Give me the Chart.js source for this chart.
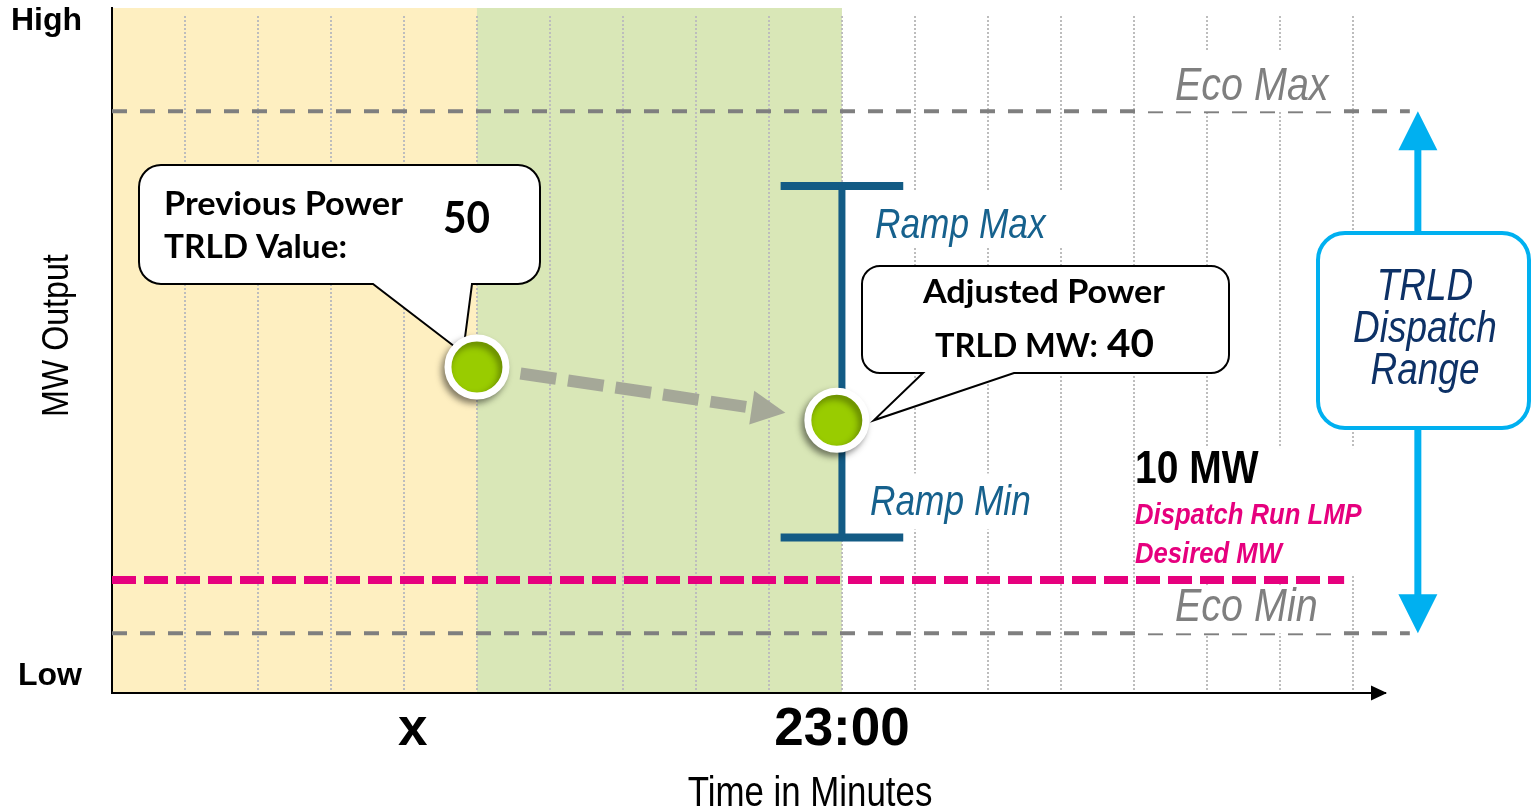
<!DOCTYPE html>
<html>
<head>
<meta charset="utf-8">
<title>TRLD Dispatch Range</title>
<script src="https://cdn.jsdelivr.net/npm/chart.js@4.4.1/dist/chart.umd.min.js"></script>
<style>
  html, body { margin: 0; padding: 0; background: #ffffff; }
  canvas { display: block; }
</style>
</head>
<body>
<canvas id="c" width="1532" height="810"></canvas>
<script>
// ---------------- data ----------------
// time axis (one unit = one minute slot)
const minuteMarks   = [1, 2, 3, 4, 5, 6, 7, 8, 9, 10, 11, 12, 13, 14, 15, 16, 17];
const xTickValues   = [4.12, 10];
const xTickLabels   = ['x', '23:00'];
// output axis (MW)
const yTickValues   = [-8, 115];
const yTickLabels   = ['Low', 'High'];
// shaded intervals
const bandStart     = [0, 5];
const bandEnd       = [5, 10];
// unit limits
const ecoMax        = 98;
const ecoMin        = 0;
const rampMax       = 84;
const rampMin       = 18;
const rampTime      = 10;
const desiredMW     = 10;
// previous and adjusted TRLD points
const pointTimes    = [5, 9.93];
const pointValues   = [50, 40];
// horizontal extents of the level lines
const levelLineEnd  = 17.78;
const desiredEnd    = 16.88;
const rangeArrowAt  = 17.89;

// ---------------- styles ----------------
const SANS  = '"Liberation Sans", Arial, sans-serif';
const CALLOUT_FONT = 'Lato, "Open Sans", sans-serif';
const C = {
  yellow: '#FEEFC1', green: '#D9E7B7', grid: '#BDBDBD',
  eco: '#7F7F7F', pink: '#E6007E', ramp: '#135B85', rampText: '#16618D',
  dot: '#99CC00', arrow: '#A5A898', cyan: '#00B0F0', navy: '#0D3166'
};
const CAP_HALF = 0.84;

Chart.defaults.font.family = SANS;

// draw text with optional horizontal squeeze / fitted width
function drawText(ctx, s, x, y, font, color, o = {}) {
  ctx.save();
  ctx.font = font;
  ctx.fillStyle = color;
  ctx.textBaseline = 'alphabetic';
  ctx.textAlign = 'left';
  const w = ctx.measureText(s).width;
  let sx = o.sx || 1;
  if (o.width) sx = o.width / w;
  const ww = w * sx;
  let x0 = x;
  if (o.align === 'center') x0 = x - ww / 2;
  else if (o.align === 'right') x0 = x - ww;
  ctx.translate(x0, y);
  ctx.scale(sx, 1);
  ctx.fillText(s, 0, 0);
  ctx.restore();
}

function whiteRect(ctx, l, t, r, b) {
  ctx.save();
  ctx.fillStyle = '#ffffff';
  ctx.fillRect(l, t, r - l, b - t);
  ctx.restore();
}

function roundRectPath(ctx, l, t, r, b, rad) {
  ctx.beginPath();
  ctx.moveTo(l + rad, t);
  ctx.lineTo(r - rad, t);
  ctx.arcTo(r, t, r, t + rad, rad);
  ctx.lineTo(r, b - rad);
  ctx.arcTo(r, b, r - rad, b, rad);
  ctx.lineTo(l + rad, b);
  ctx.arcTo(l, b, l, b - rad, rad);
  ctx.lineTo(l, t + rad);
  ctx.arcTo(l, t, l + rad, t, rad);
  ctx.closePath();
}

// speech bubble with a tail leaving the bottom edge
function bubble(ctx, l, t, r, b, rad, tailA, tailB, tip) {
  ctx.save();
  ctx.beginPath();
  ctx.moveTo(l + rad, t);
  ctx.lineTo(r - rad, t);
  ctx.arcTo(r, t, r, t + rad, rad);
  ctx.lineTo(r, b - rad);
  ctx.arcTo(r, b, r - rad, b, rad);
  ctx.lineTo(tailB, b);
  ctx.lineTo(tip.x, tip.y);
  ctx.lineTo(tailA, b);
  ctx.lineTo(l + rad, b);
  ctx.arcTo(l, b, l, b - rad, rad);
  ctx.lineTo(l, t + rad);
  ctx.arcTo(l, t, l + rad, t, rad);
  ctx.closePath();
  ctx.fillStyle = '#ffffff';
  ctx.fill();
  ctx.lineWidth = 2;
  ctx.lineJoin = 'miter';
  ctx.strokeStyle = '#000000';
  ctx.stroke();
  ctx.restore();
}

const PTS = 0;

const diagramPlugin = {
  id: 'diagram',
  beforeDraw(chart) {
    const { ctx, chartArea: ca, scales: { x } } = chart;
    const colors = [C.yellow, C.green];
    ctx.save();
    for (let i = 0; i < bandStart.length; i++) {
      const l = x.getPixelForValue(bandStart[i]);
      const r = x.getPixelForValue(bandEnd[i]);
      ctx.fillStyle = colors[i];
      ctx.fillRect(l, ca.top, r - l, ca.bottom - ca.top);
    }
    ctx.restore();
  },
  beforeDatasetsDraw(chart) {
    const { ctx, chartArea: ca, scales: { x, y } } = chart;
    const pts = chart.getDatasetMeta(PTS).data;
    const a = pts[0], b = pts[1];

    // keep the dotted grid clear of the plot's top margin
    ctx.save();
    ctx.beginPath();
    ctx.rect(ca.left + 2, ca.top, ca.right - ca.left, 7);
    ctx.clip();
    for (let i = 0; i < bandStart.length; i++) {
      const l = x.getPixelForValue(bandStart[i]);
      const r = x.getPixelForValue(bandEnd[i]);
      ctx.fillStyle = [C.yellow, C.green][i];
      ctx.fillRect(l, ca.top, r - l, 7);
    }
    ctx.fillStyle = '#ffffff';
    const wl = x.getPixelForValue(bandEnd[bandEnd.length - 1]);
    ctx.fillRect(wl, ca.top, ca.right - wl + 2, 7);
    ctx.restore();

    // label backgrounds for the ramp labels
    const yRMax = y.getPixelForValue(rampMax);
    const yRMin = y.getPixelForValue(rampMin);
    whiteRect(ctx, 868, yRMax + 6, 1068, yRMax + 61);
    whiteRect(ctx, 865, yRMin - 64, 1035, yRMin - 8);

    // dashed move arrow from previous to adjusted point
    const dx = b.x - a.x, dy = b.y - a.y, L = Math.hypot(dx, dy);
    const ux = dx / L, uy = dy / L;
    const sx = a.x + ux * 44, sy = a.y + uy * 44;
    const tx = b.x - ux * 52, ty = b.y - uy * 52;
    const hl = 34, hw = 17;
    const bx = tx - ux * hl, by = ty - uy * hl;
    ctx.save();
    ctx.strokeStyle = C.arrow;
    ctx.fillStyle = C.arrow;
    ctx.lineWidth = 12;
    ctx.setLineDash([36, 12]);
    ctx.beginPath();
    ctx.moveTo(sx, sy);
    ctx.lineTo(bx + ux * 2, by + uy * 2);
    ctx.stroke();
    ctx.setLineDash([]);
    ctx.beginPath();
    ctx.moveTo(tx, ty);
    ctx.lineTo(bx - uy * hw, by + ux * hw);
    ctx.lineTo(bx + uy * hw, by - ux * hw);
    ctx.closePath();
    ctx.fill();
    ctx.restore();

    // callouts
    bubble(ctx, 139, 165, 540, 284, 22, 373, 472, { x: a.x - 14, y: a.y - 14 });
    drawText(ctx, 'Previous Power', 164, 215, `bold 32px ${CALLOUT_FONT}`, '#000', { width: 239 });
    drawText(ctx, 'TRLD Value:', 164, 258, `bold 32px ${CALLOUT_FONT}`, '#000', { width: 183 });
    drawText(ctx, String(pointValues[0]), 443, 233, `bold 43px ${CALLOUT_FONT}`, '#000', { width: 47 });

    bubble(ctx, 862, 266, 1229, 373, 18, 923, 1014, { x: b.x + 37, y: b.y });
    drawText(ctx, 'Adjusted Power', 923, 303, `bold 32px ${CALLOUT_FONT}`, '#000', { width: 242 });
    drawText(ctx, 'TRLD MW:', 935, 357, `bold 32px ${CALLOUT_FONT}`, '#000', { width: 163 });
    drawText(ctx, String(pointValues[1]), 1107, 357, `bold 39px ${CALLOUT_FONT}`, '#000', { width: 47 });
  },
  beforeDatasetDraw(chart, args) {
    if (args.index === PTS) {
      const ctx = chart.ctx;
      ctx.save();
      ctx.shadowColor = 'rgba(0,0,0,0.4)';
      ctx.shadowBlur = 7;
      ctx.shadowOffsetX = -3;
      ctx.shadowOffsetY = 4;
    }
  },
  afterDatasetDraw(chart, args) {
    if (args.index === PTS) chart.ctx.restore();
  },
  afterDatasetsDraw(chart) {
    const { ctx, chartArea: ca, scales: { x, y } } = chart;
    const yMax = y.getPixelForValue(ecoMax);
    const yMin = y.getPixelForValue(ecoMin);
    const yDes = y.getPixelForValue(desiredMW);
    const yRMax = y.getPixelForValue(rampMax);
    const yRMin = y.getPixelForValue(rampMin);

    // level labels with their backgrounds
    whiteRect(ctx, 1147, 52, 1340, yMax);
    drawText(ctx, 'Eco Max', 1175, yMax - 11, `italic 47px ${SANS}`, C.eco, { sx: 0.84 });
    whiteRect(ctx, 1147, yDes + 5, 1340, yMin);
    drawText(ctx, 'Eco Min', 1175, yMin - 12, `italic 47px ${SANS}`, C.eco, { sx: 0.84 });

    drawText(ctx, 'Ramp Max', 875, yRMax + 52, `italic 42px ${SANS}`, C.rampText, { sx: 0.84 });
    drawText(ctx, 'Ramp Min', 870, yRMin - 22, `italic 42px ${SANS}`, C.rampText, { sx: 0.84 });

    whiteRect(ctx, 1138, yDes - 132, 1372, yDes - 5);
    drawText(ctx, desiredMW + ' MW', 1135, yDes - 97, `bold 47px ${SANS}`, '#000', { sx: 0.83 });
    drawText(ctx, 'Dispatch Run LMP', 1135, yDes - 56, `italic bold 29px ${SANS}`, C.pink, { sx: 0.885 });
    drawText(ctx, 'Desired MW', 1135, yDes - 17, `italic bold 29px ${SANS}`, C.pink, { sx: 0.885 });

    // dispatch range double arrow
    const ax = x.getPixelForValue(rangeArrowAt);
    const head = 39, half = 19.5;
    ctx.save();
    ctx.strokeStyle = C.cyan;
    ctx.fillStyle = C.cyan;
    ctx.lineWidth = 7;
    ctx.beginPath();
    ctx.moveTo(ax, yMax + head - 2);
    ctx.lineTo(ax, yMin - head + 2);
    ctx.stroke();
    ctx.beginPath();
    ctx.moveTo(ax, yMax);
    ctx.lineTo(ax - half, yMax + head);
    ctx.lineTo(ax + half, yMax + head);
    ctx.closePath();
    ctx.fill();
    ctx.beginPath();
    ctx.moveTo(ax, yMin);
    ctx.lineTo(ax - half, yMin - head);
    ctx.lineTo(ax + half, yMin - head);
    ctx.closePath();
    ctx.fill();
    roundRectPath(ctx, 1318, 233, 1529, 428, 27);
    ctx.fillStyle = '#ffffff';
    ctx.fill();
    ctx.lineWidth = 4;
    ctx.strokeStyle = C.cyan;
    ctx.stroke();
    ctx.restore();
    drawText(ctx, 'TRLD', 1425, 300, `italic 44px ${SANS}`, C.navy, { sx: 0.84, align: 'center' });
    drawText(ctx, 'Dispatch', 1425, 342, `italic 44px ${SANS}`, C.navy, { sx: 0.84, align: 'center' });
    drawText(ctx, 'Range', 1425, 384, `italic 44px ${SANS}`, C.navy, { sx: 0.84, align: 'center' });

    // time axis arrowhead
    const yb = ca.bottom;
    ctx.save();
    ctx.fillStyle = '#000';
    ctx.beginPath();
    ctx.moveTo(ca.right + 2, yb);
    ctx.lineTo(ca.right - 14, yb - 7.5);
    ctx.lineTo(ca.right - 14, yb + 7.5);
    ctx.closePath();
    ctx.fill();
    ctx.restore();

    // axis titles
    drawText(ctx, 'Time in Minutes', 810, 806, `42px ${SANS}`, '#000', { sx: 0.83, align: 'center' });
    ctx.save();
    ctx.translate(68, 417);
    ctx.rotate(-Math.PI / 2);
    drawText(ctx, 'MW Output', 0, 0, `37px ${SANS}`, '#000', { sx: 0.87 });
    ctx.restore();
  }
};

const line = (data, color, width, dash) => ({
  type: 'scatter', data, showLine: true, pointRadius: 0, pointHoverRadius: 0,
  borderColor: color, borderWidth: width, borderDash: dash || [],
  borderCapStyle: 'butt', fill: false, tension: 0, clip: false
});

const chart = new Chart(document.getElementById('c'), {
  type: 'scatter',
  data: {
    datasets: [
      {
        label: 'TRLD',
        data: pointTimes.map((t, i) => ({ x: t, y: pointValues[i] })),
        pointRadius: 29, pointHoverRadius: 29,
        pointBackgroundColor: C.dot, pointBorderColor: '#ffffff',
        pointBorderWidth: 7, pointHoverBorderWidth: 7, clip: false
      },
      line([{ x: rampTime, y: rampMin }, { x: rampTime, y: rampMax }], C.ramp, 7),
      line([{ x: rampTime - CAP_HALF, y: rampMax }, { x: rampTime + CAP_HALF, y: rampMax }], C.ramp, 8),
      line([{ x: rampTime - CAP_HALF, y: rampMin }, { x: rampTime + CAP_HALF, y: rampMin }], C.ramp, 8),
      line([{ x: 0, y: desiredMW }, { x: desiredEnd, y: desiredMW }], C.pink, 8, [24, 8]),
      line([{ x: 0, y: ecoMax }, { x: levelLineEnd, y: ecoMax }], C.eco, 4, [15, 13]),
      line([{ x: 0, y: ecoMin }, { x: levelLineEnd, y: ecoMin }], C.eco, 4, [15, 13])
    ]
  },
  options: {
    responsive: false,
    devicePixelRatio: 1,
    animation: false,
    events: [],
    layout: { autoPadding: false, padding: { top: 8, right: 147, left: 0, bottom: 0 } },
    plugins: { legend: { display: false }, tooltip: { enabled: false } },
    scales: {
      x: {
        type: 'linear', position: 'bottom', min: 0, max: 17.44,
        afterBuildTicks: (s) => {
          const vals = Array.from(new Set([...minuteMarks, ...xTickValues])).sort((p, q) => p - q);
          s.ticks = vals.map(v => ({ value: v }));
        },
        ticks: {
          autoSkip: false, maxRotation: 0, minRotation: 0, padding: 6, color: '#000',
          font: { size: 53, weight: 'bold' },
          callback: (v) => { const i = xTickValues.indexOf(v); return i >= 0 ? xTickLabels[i] : ''; }
        },
        grid: {
          drawTicks: false, lineWidth: 2,
          color: (c) => (c.tick && Number.isInteger(c.tick.value) && c.tick.value > 0) ? C.grid : 'rgba(0,0,0,0)'
        },
        border: { display: true, color: '#000', width: 2, dash: [2, 2] },
        afterFit: (s) => { s.height = 117; s.paddingLeft = 0; s.paddingRight = 0; }
      },
      y: {
        type: 'linear', position: 'left', min: -11.2, max: 117.4,
        afterBuildTicks: (s) => { s.ticks = yTickValues.map(v => ({ value: v })); },
        ticks: {
          autoSkip: false, padding: 30, color: '#000',
          font: { size: 32, weight: 'bold' },
          callback: (v) => { const i = yTickValues.indexOf(v); return i >= 0 ? yTickLabels[i] : ''; }
        },
        grid: { display: false, drawTicks: false },
        border: { display: true, color: '#000', width: 2 },
        afterFit: (s) => { s.width = 112; s.paddingTop = 0; s.paddingBottom = 0; }
      }
    }
  },
  plugins: [diagramPlugin]
});
</script>
</body>
</html>
